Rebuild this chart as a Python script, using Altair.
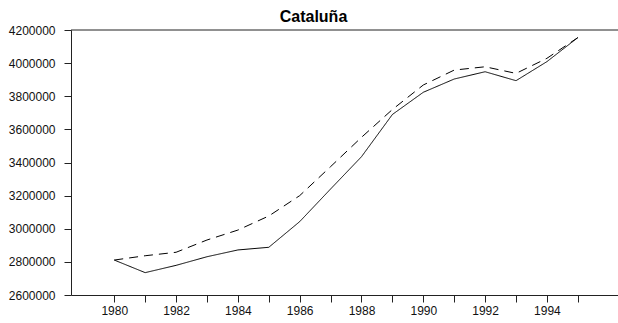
import altair as alt
import pandas as pd

years = list(range(1980, 1996))
solid = [2811000, 2735000, 2779000, 2831000, 2872000, 2888000, 3043000, 3240000,
         3435000, 3690000, 3824000, 3904000, 3948000, 3894000, 4009000, 4154000]
dashed = [2811000, 2837000, 2858000, 2932000, 2992000, 3077000, 3200000, 3375000,
          3552000, 3720000, 3868000, 3958000, 3978000, 3938000, 4029000, 4154000]
series_names = ["solid", "dashed"]

rows = []
for name, vals in zip(series_names, [solid, dashed]):
    for y, v in zip(years, vals):
        rows.append({"year": y, "value": v, "series": name})
df = pd.DataFrame(rows)

W, H = 547, 265
FONT = "Liberation Sans"

x = alt.X("year:Q",
          scale=alt.Scale(domain=[1978.6, 1996.3], nice=False, zero=False),
          axis=alt.Axis(values=years, format="d", title=None,
                        labelExpr="datum.value % 2 == 0 ? datum.label : ''",
                        tickSize=7, labelPadding=3, grid=False,
                        domainColor="#222", tickColor="#222", labelColor="#111",
                        labelFont=FONT, labelFontSize=12, labelFlush=False))
y = alt.Y("value:Q",
          scale=alt.Scale(domain=[2600000, 4200000], nice=False, zero=False),
          axis=alt.Axis(values=list(range(2600000, 4200001, 200000)), format="d",
                        title=None, tickSize=7, labelPadding=9, grid=False,
                        domainColor="#222", tickColor="#222", labelColor="#111",
                        labelFont=FONT, labelFontSize=12, labelFlush=False))

lines = alt.Chart(df).mark_line(color="black", strokeWidth=1).encode(
    x=x, y=y,
    strokeDash=alt.StrokeDash("series:N",
                              scale=alt.Scale(domain=series_names, range=[[1, 0], [9, 6]]),
                              legend=None),
    detail="series:N",
)

top_rule = alt.Chart(pd.DataFrame({"a": [0]})).mark_rule(color="#222", strokeWidth=1).encode(
    x=alt.value(0), x2=alt.value(W), y=alt.value(0)
)

chart = alt.layer(lines, top_rule).properties(
    width=W, height=H,
    title=alt.TitleParams("Cataluña", font=FONT, fontSize=16, fontWeight="bold",
                          anchor="middle", offset=-1, dx=-31, color="black"),
    autosize=alt.AutoSizeParams(type="none"),
    padding={"left": 71, "top": 30, "right": 0, "bottom": 28},
).configure_view(stroke=None)

chart.save("out.html", embed_options={"renderer": "svg", "actions": False})
